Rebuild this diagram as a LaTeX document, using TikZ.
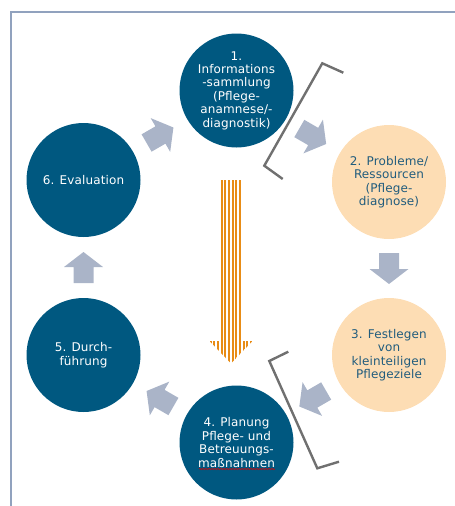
\documentclass[tikz,border=0pt]{standalone}
\usepackage{fontspec}
\setmainfont{DejaVu Sans}[LetterSpace=1]
\usetikzlibrary{calc,decorations.pathmorphing}
\definecolor{cblue}{RGB}{0,88,128}
\definecolor{cpeach}{RGB}{253,221,180}
\definecolor{ctextb}{RGB}{33,92,125}
\definecolor{carrow}{RGB}{170,180,200}
\definecolor{cbracket}{RGB}{112,112,112}
\definecolor{cframe}{RGB}{145,162,190}
\definecolor{corange}{RGB}{232,140,22}
\tikzset{
  stage/.style={circle, minimum size=114pt, inner sep=0pt, align=center,
    font=\fontsize{12}{13.4}\selectfont},
  bluestage/.style={stage, fill=cblue, text=white},
  peachstage/.style={stage, fill=cpeach, text=ctextb},
  bracketline/.style={draw=cbracket, line width=2.4pt, line join=miter},
  blockarrow/.style={fill=carrow},
  stripe/.style={draw=corange, line width=2pt},
  frameline/.style={draw=cframe, line width=2pt},
}
\newcommand{\cyclearrowshape}{(-15.5,-10) -- (0.5,-10) -- (0.5,-19.5) -- (15.5,0) -- (0.5,19.5) -- (0.5,10) -- (-15.5,10) -- cycle}
\begin{document}
\begin{tikzpicture}[x=1pt,y=-1pt]
\useasboundingbox (0,0) rectangle (455,506);
% frame
\draw[frameline] (11,506) -- (11,11.5) -- (455,11.5);
% stages
\node[bluestage]  (c1) at (236.5,90.5) {1.\\Informations\\-sammlung\\(Pflege-\\anamnese/-\\diagnostik)};
\node[peachstage] (c2) at (389,182) {2. Probleme/\\Ressourcen\\(Pflege-\\diagnose)};
\node[peachstage] (c3) at (389,355) {3. Festlegen\\von\\kleinteiligen\\Pflegeziele};
\node[bluestage]  (c4) at (236.5,442.5) {4. Planung\\Pflege- und\\Betreuungs-\\maßnahmen};
\node[bluestage]  (c5) at (83.5,355) {5. Durch-\\führung};
\node[bluestage]  (c6) at (83.5,180) {6. Evaluation};
% block arrows between stages
\fill[blockarrow, shift={($(c6)!0.5!(c1)$)}, rotate=30] \cyclearrowshape;
\fill[blockarrow, shift={($(c1)!0.5!(c2)$)}, rotate=-30] \cyclearrowshape;
\fill[blockarrow, shift={($(c2)!0.5!(c3)$)}, rotate=-90] \cyclearrowshape;
\fill[blockarrow, shift={($(c3)!0.5!(c4)$)}, rotate=210] \cyclearrowshape;
\fill[blockarrow, shift={($(c4)!0.5!(c5)$)}, rotate=150] \cyclearrowshape;
\fill[blockarrow, shift={($(c5)!0.5!(c6)$)}, rotate=90] \cyclearrowshape;
% brackets
\draw[bracketline] (343.3,72.7) -- (322.3,63.3) -- (264.3,165.7) -- (282.7,179);
\draw[bracketline] (288.3,351.7) -- (269.3,361) -- (317.3,468.3) -- (339,461.7);
% striped orange arrow
\begin{scope}
  \clip (220.5,180) -- (241.5,180) -- (241.5,341) -- (252.5,341) -- (231,363.5)
        -- (209.5,341) -- (220.5,341) -- cycle;
  \foreach \k in {0,...,11} \draw[stripe] ({210.7+3.67*\k},170) -- ++(0,200);
\end{scope}
% spell-check squiggle
\draw[red!85!black, line width=0.6pt, decorate,
  decoration={snake, amplitude=0.7pt, segment length=3pt}] (199,469) -- (275,469);
\end{tikzpicture}
\end{document}
